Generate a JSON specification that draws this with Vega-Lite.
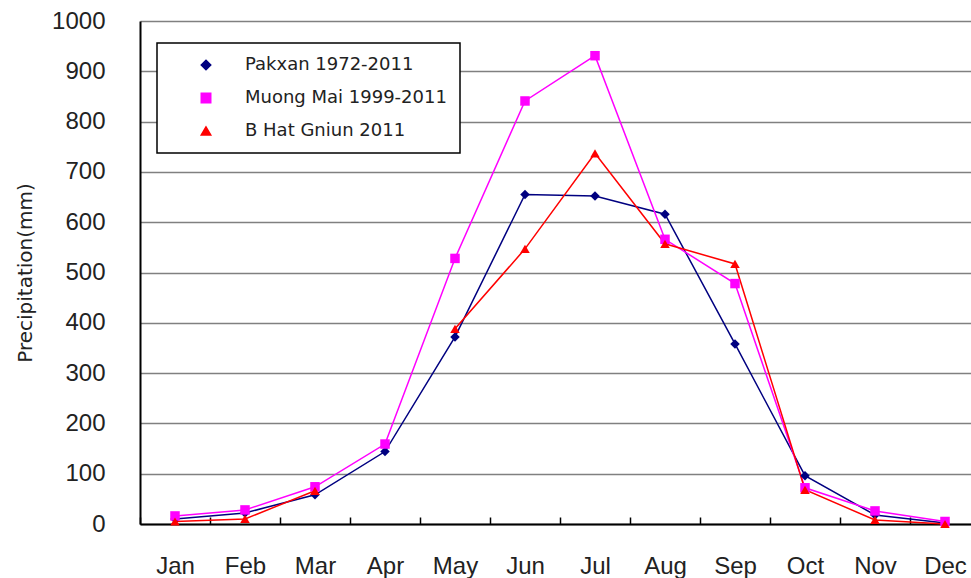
{
  "$schema": "https://vega.github.io/schema/vega-lite/v6.json",
  "width": 840,
  "height": 503,
  "autosize": {"type": "none"},
  "padding": {"left": 140, "top": 21, "right": 0, "bottom": 54},
  "background": "white",
  "config": {
    "view": {"stroke": null},
    "font": "Liberation Sans",
    "legend": {
      "orient": "none",
      "legendX": 17,
      "legendY": 22,
      "strokeColor": "black",
      "strokeWidth": 1.5,
      "fillColor": "white",
      "padding": 13,
      "labelFont": "DejaVu Sans",
      "labelFontSize": 18,
      "labelColor": "#222",
      "labelLimit": 400,
      "symbolSize": 90,
      "rowPadding": 15,
      "symbolOffset": 27,
      "labelOffset": 30
    }
  },
  "data": {
    "values": [
      {"month": "Jan", "series": "Pakxan 1972-2011", "value": 10},
      {"month": "Feb", "series": "Pakxan 1972-2011", "value": 22},
      {"month": "Mar", "series": "Pakxan 1972-2011", "value": 58},
      {"month": "Apr", "series": "Pakxan 1972-2011", "value": 144},
      {"month": "May", "series": "Pakxan 1972-2011", "value": 372},
      {"month": "Jun", "series": "Pakxan 1972-2011", "value": 655},
      {"month": "Jul", "series": "Pakxan 1972-2011", "value": 652},
      {"month": "Aug", "series": "Pakxan 1972-2011", "value": 616},
      {"month": "Sep", "series": "Pakxan 1972-2011", "value": 358},
      {"month": "Oct", "series": "Pakxan 1972-2011", "value": 96},
      {"month": "Nov", "series": "Pakxan 1972-2011", "value": 18},
      {"month": "Dec", "series": "Pakxan 1972-2011", "value": 2},
      {"month": "Jan", "series": "Muong Mai 1999-2011", "value": 16},
      {"month": "Feb", "series": "Muong Mai 1999-2011", "value": 28},
      {"month": "Mar", "series": "Muong Mai 1999-2011", "value": 74},
      {"month": "Apr", "series": "Muong Mai 1999-2011", "value": 159},
      {"month": "May", "series": "Muong Mai 1999-2011", "value": 528},
      {"month": "Jun", "series": "Muong Mai 1999-2011", "value": 841},
      {"month": "Jul", "series": "Muong Mai 1999-2011", "value": 931},
      {"month": "Aug", "series": "Muong Mai 1999-2011", "value": 566},
      {"month": "Sep", "series": "Muong Mai 1999-2011", "value": 478},
      {"month": "Oct", "series": "Muong Mai 1999-2011", "value": 72},
      {"month": "Nov", "series": "Muong Mai 1999-2011", "value": 26},
      {"month": "Dec", "series": "Muong Mai 1999-2011", "value": 5},
      {"month": "Jan", "series": "B Hat Gniun 2011", "value": 5},
      {"month": "Feb", "series": "B Hat Gniun 2011", "value": 10},
      {"month": "Mar", "series": "B Hat Gniun 2011", "value": 66},
      {"month": "Apr", "series": "B Hat Gniun 2011", "value": null},
      {"month": "May", "series": "B Hat Gniun 2011", "value": 388},
      {"month": "Jun", "series": "B Hat Gniun 2011", "value": 547},
      {"month": "Jul", "series": "B Hat Gniun 2011", "value": 737},
      {"month": "Aug", "series": "B Hat Gniun 2011", "value": 557},
      {"month": "Sep", "series": "B Hat Gniun 2011", "value": 517},
      {"month": "Oct", "series": "B Hat Gniun 2011", "value": 68},
      {"month": "Nov", "series": "B Hat Gniun 2011", "value": 8},
      {"month": "Dec", "series": "B Hat Gniun 2011", "value": 0}
    ]
  },
  "encoding": {
    "x": {
      "field": "month",
      "type": "ordinal",
      "sort": ["Jan", "Feb", "Mar", "Apr", "May", "Jun", "Jul", "Aug", "Sep", "Oct", "Nov", "Dec"],
      "scale": {"paddingInner": 0, "paddingOuter": 0},
      "axis": {
        "title": null,
        "labelAngle": 0,
        "labelFontSize": 24,
        "labelColor": "#222",
        "labelPadding": 37,
        "domainColor": "black",
        "domainWidth": 2,
        "tickColor": "black",
        "tickWidth": 1.5,
        "tickSize": -7,
        "tickBand": "extent",
        "grid": false
      }
    },
    "y": {
      "field": "value",
      "type": "quantitative",
      "scale": {"domain": [0, 1000], "nice": false},
      "axis": {
        "title": "Precipitation(mm)",
        "titleFont": "DejaVu Sans",
        "titleFontSize": 20,
        "titleFontWeight": "normal",
        "titleColor": "#222",
        "titlePadding": 16,
        "values": [0, 100, 200, 300, 400, 500, 600, 700, 800, 900, 1000],
        "format": "d",
        "labelFontSize": 24,
        "labelColor": "#222",
        "labelPadding": 35,
        "ticks": false,
        "domainColor": "black",
        "domainWidth": 2,
        "grid": true,
        "gridColor": "#808080",
        "gridWidth": 1.5
      }
    },
    "color": {
      "field": "series",
      "type": "nominal",
      "sort": ["Pakxan 1972-2011", "Muong Mai 1999-2011", "B Hat Gniun 2011"],
      "scale": {
        "domain": ["Pakxan 1972-2011", "Muong Mai 1999-2011", "B Hat Gniun 2011"],
        "range": ["#000080", "#FF00FF", "#FF0000"]
      },
      "title": null
    }
  },
  "layer": [
    {
      "mark": {"type": "line", "strokeWidth": 1.5, "invalid": "break-paths-show-domains"}
    },
    {
      "mark": {"type": "point", "filled": true, "opacity": 1, "size": 90},
      "encoding": {
        "shape": {
          "field": "series",
          "type": "nominal",
          "scale": {
            "domain": ["Pakxan 1972-2011", "Muong Mai 1999-2011", "B Hat Gniun 2011"],
            "range": ["diamond", "square", "triangle-up"]
          },
          "title": null
        }
      }
    }
  ]
}
